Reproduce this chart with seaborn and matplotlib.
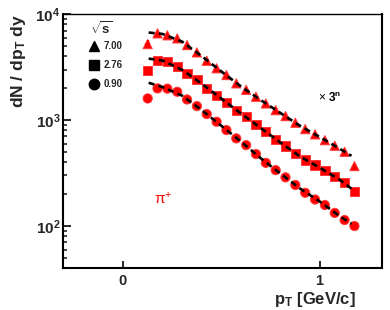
import numpy as np
import pandas as pd
import matplotlib
matplotlib.use("Agg")
import matplotlib.pyplot as plt
import seaborn as sns
from matplotlib.lines import Line2D

# ---- data ----
pt = [0.125, 0.175, 0.225, 0.275, 0.325, 0.375, 0.425, 0.475, 0.525, 0.575, 0.625,
      0.675, 0.725, 0.775, 0.825, 0.875, 0.925, 0.975, 1.025, 1.075, 1.125, 1.175]
y_700 = [5210, 6580, 6310, 5900, 5100, 4350, 3630, 3080, 2660, 2220, 1930,
         1660, 1435, 1240, 1090, 944, 822, 733, 646, 573, 502, 368]
y_276 = [2920, 3680, 3550, 3180, 2760, 2420, 1990, 1720, 1470, 1240, 1075,
         910, 776, 658, 569, 485, 420, 376, 333, 292, 257, 211]
y_090 = [1600, 1990, 1980, 1850, 1565, 1355, 1140, 964, 805, 672, 580,
         478, 395, 337, 288, 244, 206, 178, 158, 133, 114, 100]

fit_pt = [0.13, 0.2, 0.3, 0.4, 0.5, 0.6, 0.7, 0.8, 0.9, 1.0, 1.1, 1.16]
fit_700 = [6700, 6500, 5500, 4000, 2870, 2070, 1540, 1165, 880, 690, 537, 460]
fit_276 = [3800, 3650, 2980, 2200, 1590, 1150, 840, 612, 452, 354, 274, 225]
fit_090 = [2250, 2050, 1700, 1240, 880, 625, 435, 312, 225, 170, 124, 105]

energies = ["7.00", "2.76", "0.90"]
markers = {"7.00": "^", "2.76": "s", "0.90": "o"}

df = pd.DataFrame({
    "pt": pt * 3,
    "val": y_700 + y_276 + y_090,
    "energy": [energies[0]] * len(pt) + [energies[1]] * len(pt) + [energies[2]] * len(pt),
})
fit_df = pd.DataFrame({
    "pt": fit_pt * 3,
    "val": fit_700 + fit_276 + fit_090,
    "energy": [energies[0]] * len(fit_pt) + [energies[1]] * len(fit_pt) + [energies[2]] * len(fit_pt),
})

sns.set_theme(style="white")
plt.rcParams["font.family"] = ["Liberation Sans", "DejaVu Sans"]
plt.rcParams["mathtext.fontset"] = "custom"
plt.rcParams["mathtext.rm"] = "Liberation Sans"
plt.rcParams["mathtext.it"] = "Liberation Sans:italic"
plt.rcParams["mathtext.bf"] = "Liberation Sans:bold"

fig = plt.figure(figsize=(3.9, 3.1), dpi=100)
ax = fig.add_axes([0.1615, 0.1355, 0.818, 0.819])

sns.scatterplot(data=df, x="pt", y="val", style="energy", markers=markers,
                color="#ff0000", edgecolor="#ff3a3a", linewidth=0.7, s=44,
                legend=False, ax=ax, zorder=2)

# error bars on the first point of each series
first = df[df["pt"] == pt[0]]
ax.errorbar(first["pt"], first["val"], xerr=0.013, yerr=first["val"] * 0.09,
            fmt="none", ecolor="#ff0000", elinewidth=1.7, capsize=0, zorder=2)

for e in energies:
    sub = fit_df[fit_df["energy"] == e]
    sns.lineplot(data=sub, x="pt", y="val", color="black", lw=1.9,
                 linestyle=(0, (2.3, 1.6)), ax=ax, zorder=3, legend=False)

ax.set_yscale("log")
ax.set_xlim(-0.305, 1.315)
ax.set_ylim(40.2, 1e4)

ax.set_xticks([0, 1])
ax.set_xticklabels([r"$\mathbf{0}$", r"$\mathbf{1}$"], fontsize=10.5)
ax.set_yticks([1e2, 1e3, 1e4])
ax.set_yticklabels([r"$\mathbf{10^{2}}$", r"$\mathbf{10^{3}}$", r"$\mathbf{10^{4}}$"], fontsize=11)
ax.yaxis.set_minor_locator(matplotlib.ticker.LogLocator(base=10, subs=np.arange(2, 10)))
ax.yaxis.set_minor_formatter(matplotlib.ticker.NullFormatter())
ax.tick_params(axis="y", which="major", direction="in", length=6, width=1.4, left=True, pad=2)
ax.tick_params(axis="y", which="minor", direction="in", length=3, width=1.2, left=True)
ax.tick_params(axis="x", which="major", direction="in", length=5, width=1.4, bottom=True, pad=4)
ax.tick_params(axis="x", which="minor", bottom=False)

for side in ["left", "bottom", "right"]:
    ax.spines[side].set_linewidth(1.5)
    ax.spines[side].set_color("black")
ax.spines["top"].set_linewidth(1.0)
ax.spines["top"].set_color("black")

ax.set_xlabel(r"$\mathbf{p_{T}}$ [GeV/c]", fontsize=12, fontweight="bold",
              ha="right", x=0.917, labelpad=2)
ax.set_ylabel(r"$\mathbf{dN\ /\ dp_{T}\ dy}$", fontsize=12.5, fontweight="bold",
              ha="right", y=1.0, labelpad=5)

ax.text(0.80, 0.655, r"$\times$ $\mathbf{3^{n}}$", transform=ax.transAxes,
        fontsize=8.5, color="black")
ax.text(0.285, 0.255, "π$^{+}$", transform=ax.transAxes,
        fontsize=11, color="#ff0000")

handles = [Line2D([], [], marker=markers[e], color="black", linestyle="none",
                  markersize=7.5) for e in energies]
leg = ax.legend(handles, energies, title=r"$\mathbf{\sqrt{s}}$", loc="upper left",
                bbox_to_anchor=(0.065, 1.0), frameon=False, fontsize=7,
                title_fontsize=9.5, handlelength=1.0, handletextpad=0.4,
                labelspacing=0.95, borderaxespad=0.2)
for t in leg.get_texts():
    t.set_fontweight("bold")
leg._legend_box.align = "left"
leg._legend_box.sep = 3

fig.savefig("out.png", dpi=100)
